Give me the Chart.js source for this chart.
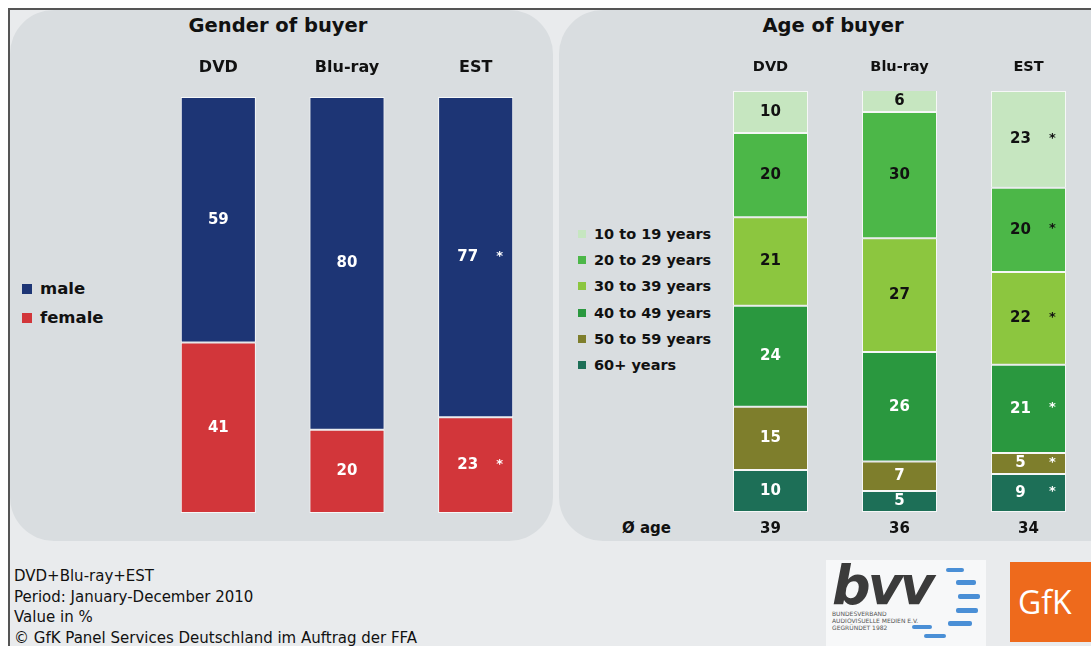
<!DOCTYPE html>
<html>
<head>
<meta charset="utf-8">
<script src="https://cdn.jsdelivr.net/npm/chart.js@4.4.1/dist/chart.umd.min.js"></script>
<style>
  html, body { margin: 0; padding: 0; }
  body { width: 1091px; height: 646px; overflow: hidden; position: relative; background: #ffffff;
         font-family: "DejaVu Sans", sans-serif; }
  #frame { position: absolute; left: 8px; top: 8px; width: 1083px; height: 638px; background: #e9ebed;
           border-left: 2px solid #555; border-top: 2px solid #555; box-sizing: border-box; }
  .panel { position: absolute; background: #d9dde0; border-radius: 44px; }
  .title { position: absolute; font-weight: bold; font-size: 19.5px; color: #111; text-align: center; }
  .legend { position: absolute; font-weight: bold; color: #111; }
  .legend div { position: relative; white-space: nowrap; }
  .legend span.sw { position: absolute; display: block; }
  canvas { position: absolute; }
  #foot { position: absolute; left: 14px; top: 566px; font-size: 15px; line-height: 20.5px; color: #111; }
  #avg { position: absolute; left: 622px; top: 519px; font-size: 15px; font-weight: bold; color: #111; }
  #bvv { position: absolute; left: 826px; top: 560px; width: 160px; height: 86px; background: #f7f8f9; }
  #gfk { position: absolute; left: 1010px; top: 562px; width: 90px; height: 80px; background: #ee6a1c;
         color: #fff; font-family: "Open Sans", sans-serif; font-size: 32px; line-height: 80px; padding-left: 8px; box-sizing: border-box; }
</style>
</head>
<body>
<div id="frame"></div>
<div class="panel" style="left:10px; top:10px; width:543px; height:531px;"></div>
<div class="panel" style="left:559px; top:10px; width:580px; height:531px;"></div>
<div class="title" style="left:128px; top:14px; width:300px;">Gender of buyer</div>
<div class="title" style="left:683px; top:14px; width:300px;">Age of buyer</div>
<div class="legend" id="legGender" style="left:22px; top:274px; font-size:16.5px;"></div>
<div class="legend" id="legAge" style="left:578px; top:221px; font-size:14.5px;"></div>
<canvas id="c1"></canvas>
<canvas id="c2"></canvas>
<div id="avg"></div>
<div id="foot">DVD+Blu-ray+EST<br>Period: January-December 2010<br>Value in %<br>© GfK Panel Services Deutschland im Auftrag der FFA</div>
<div id="bvv">
  <div style="position:absolute;left:6px;top:-6px;font-family:'DejaVu Sans';font-weight:bold;font-style:italic;font-size:54px;color:#3b3b3b;letter-spacing:-3px;">bvv</div>
  <div style="position:absolute;left:6px;top:50px;font-size:6px;line-height:7px;color:#555;font-family:'DejaVu Sans';">BUNDESVERBAND<br>AUDIOVISUELLE MEDIEN E.V.<br>GEGRÜNDET 1982</div>
  <div style="position:absolute;left:120px;top:8px;width:18px;height:4px;background:#4a8fd6;border-radius:2px;"></div>
  <div style="position:absolute;left:130px;top:20px;width:20px;height:5px;background:#4a8fd6;border-radius:2px;"></div>
  <div style="position:absolute;left:132px;top:34px;width:22px;height:5px;background:#4a8fd6;border-radius:2px;"></div>
  <div style="position:absolute;left:130px;top:48px;width:22px;height:5px;background:#4a8fd6;border-radius:2px;"></div>
  <div style="position:absolute;left:122px;top:61px;width:24px;height:5px;background:#4a8fd6;border-radius:2px;"></div>
  <div style="position:absolute;left:86px;top:65px;width:20px;height:4px;background:#4a8fd6;border-radius:2px;"></div>
  <div style="position:absolute;left:98px;top:74px;width:22px;height:4px;background:#4a8fd6;border-radius:2px;"></div>
</div>
<div id="gfk">GfK</div>
<script>
// ---- data ----
const categories = ["DVD", "Blu-ray", "EST"];
const genderLabels = ["male", "female"];
const male = [59, 80, 77];
const female = [41, 20, 23];
const starred = [false, false, true];

const ageLabels = ["10 to 19 years", "20 to 29 years", "30 to 39 years", "40 to 49 years", "50 to 59 years", "60+ years"];
const age10to19 = [10, 6, 23];
const age20to29 = [20, 30, 20];
const age30to39 = [21, 27, 22];
const age40to49 = [24, 26, 21];
const age50to59 = [15, 7, 5];
const age60plus = [10, 5, 9];
const avgAgeLabel = "Ø age";
const avgAge = [39, 36, 34];

// ---- styles ----
const genderColors = ["#1d3575", "#d2363a"];
const genderText = ["#ffffff", "#ffffff"];
const ageColors = ["#c6e6c0", "#4cb748", "#8cc63f", "#2a983f", "#7e7e2c", "#1d6f57"];
const ageText = ["#111111", "#111111", "#111111", "#ffffff", "#ffffff", "#ffffff"];
const FONT = '"DejaVu Sans", sans-serif';

document.getElementById('avg').textContent = avgAgeLabel;

// legends
function buildLegend(id, labels, colors, rowH, sw) {
  const el = document.getElementById(id);
  labels.forEach((l, i) => {
    const d = document.createElement('div');
    d.style.height = rowH + 'px';
    d.style.lineHeight = rowH + 'px';
    d.style.paddingLeft = (sw + 8) + 'px';
    d.textContent = l;
    const s = document.createElement('span');
    s.className = 'sw';
    s.style.width = sw + 'px'; s.style.height = sw + 'px';
    s.style.left = '0px'; s.style.top = ((rowH - sw) / 2) + 'px';
    s.style.background = colors[i];
    d.appendChild(s);
    el.appendChild(d);
  });
}
buildLegend('legGender', genderLabels, genderColors, 29, 10);
buildLegend('legAge', ageLabels, ageColors, 26.2, 8);

const labelPlugin = {
  id: 'labelPlugin',
  afterDatasetsDraw(chart) {
    const ctx = chart.ctx;
    const o = chart.options.plugins.labelPlugin;
    const area = chart.chartArea;
    ctx.save();
    ctx.textBaseline = 'middle';
    chart.data.datasets.forEach((ds, di) => {
      const meta = chart.getDatasetMeta(di);
      meta.data.forEach((el, i) => {
        const top = Math.max(el.y, area.top);
        const cy = (top + el.base) / 2;
        ctx.fillStyle = o.textColors[di];
        ctx.font = 'bold 15px ' + FONT;
        ctx.textAlign = 'center';
        if (o.star[i]) {
          ctx.fillText(String(ds.data[i]), el.x - 8, cy);
          ctx.font = 'bold 13px ' + FONT;
          ctx.fillText('*', el.x + 24, cy - 1);
        } else {
          ctx.fillText(String(ds.data[i]), el.x, cy);
        }
      });
    });
    // category labels on top
    ctx.fillStyle = '#111';
    ctx.textAlign = 'center';
    ctx.font = 'bold ' + o.catSize + 'px ' + FONT;
    chart.data.labels.forEach((c, i) => {
      ctx.fillText(c, chart.scales.x.getPixelForValue(i), o.catY);
    });
    if (o.bottomRow) {
      ctx.font = 'bold 15px ' + FONT;
      o.bottomRow.values.forEach((v, i) => {
        ctx.fillText(String(v), chart.scales.x.getPixelForValue(i), o.bottomRow.y);
      });
    }
    ctx.restore();
  }
};

function place(id, left, top, w, h) {
  const c = document.getElementById(id);
  c.style.left = left + 'px'; c.style.top = top + 'px';
  c.style.width = w + 'px'; c.style.height = h + 'px';
  c.width = w; c.height = h;
  return c;
}

const common = (max, padTop, padBottom, extra) => ({
  responsive: false, animation: false,
  layout: { padding: { top: padTop, bottom: padBottom, left: 0, right: 0 } },
  plugins: { legend: { display: false }, tooltip: { enabled: false }, labelPlugin: extra },
  scales: {
    x: { stacked: true, display: false },
    y: { stacked: true, display: false, min: 0, max: max }
  }
});

// gender chart: chart area x 154..540, y 97..513
const c1 = place('c1', 154, 40, 386, 500);
const barOpts = { barPercentage: 1, categoryPercentage: 75 / 128.5, borderWidth: 1, borderColor: 'rgba(255,255,255,0.75)', borderSkipped: false, clip: 0 };
new Chart(c1, {
  type: 'bar',
  data: {
    labels: categories,
    datasets: [
      Object.assign({ label: genderLabels[1], data: female, backgroundColor: genderColors[1] }, barOpts),
      Object.assign({ label: genderLabels[0], data: male, backgroundColor: genderColors[0] }, barOpts)
    ]
  },
  options: common(100, 57, 27, { textColors: [genderText[1], genderText[0]], star: starred, catSize: 16, catY: 28 }),
  plugins: [labelPlugin]
});

// age chart: chart area x 706..1093, y 91..512
const c2 = place('c2', 706, 40, 387, 500);
const barOpts2 = { barPercentage: 1, categoryPercentage: 75 / 129, borderWidth: 1, borderColor: 'rgba(255,255,255,0.75)', borderSkipped: false, clip: 0 };
const ageSeries = [age10to19, age20to29, age30to39, age40to49, age50to59, age60plus];
const order = [5, 4, 3, 2, 1, 0];
new Chart(c2, {
  type: 'bar',
  data: {
    labels: categories,
    datasets: order.map(k => Object.assign({ label: ageLabels[k], data: ageSeries[k], backgroundColor: ageColors[k] }, barOpts2))
  },
  options: common(100, 51, 28, { textColors: order.map(k => ageText[k]), star: starred, catSize: 14.5, catY: 27,
    bottomRow: { values: avgAge, y: 489 } }),
  plugins: [labelPlugin]
});
</script>
</body>
</html>
